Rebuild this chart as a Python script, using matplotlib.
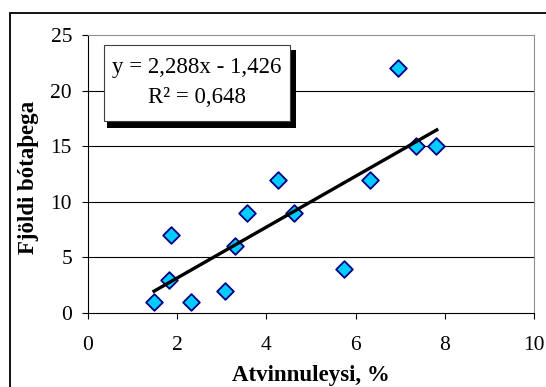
import numpy as np
import matplotlib.pyplot as plt
from matplotlib.patches import Rectangle

# data
atvinnuleysi = [1.48, 1.81, 1.85, 2.30, 3.07, 3.29, 3.56, 4.27, 4.63, 5.75, 6.33, 6.96, 7.36, 7.80]
botathegar = [1, 3, 7, 1, 2, 6, 9, 12, 9, 4, 12, 22, 15, 15]
slope, intercept = 2.288, -1.426
r2_text = "0,648"
x_ticks = [0, 2, 4, 6, 8, 10]
y_ticks = [0, 5, 10, 15, 20, 25]

plt.rcParams['font.family'] = ['Liberation Serif', 'DejaVu Serif']

W, H = 546, 387
fig = plt.figure(figsize=(W / 100, H / 100), dpi=100)
# plot area in pixels: left 88, right 534, top 35, bottom 313
ax = fig.add_axes([88 / W, 1 - 313 / H, (534 - 88) / W, (313 - 35) / H])

# outer chart frame (runs off the right/bottom edges)
fig.patches.append(Rectangle((10 / W, -0.05), 1.1, 1 - 13 / H + 0.05,
                             transform=fig.transFigure, fill=False,
                             edgecolor='black', linewidth=1.3))

for y in y_ticks[1:-1]:
    ax.axhline(y, color='black', linewidth=0.8, zorder=1)

ax.scatter(atvinnuleysi, botathegar, marker='D', s=72, facecolor='#00ccff',
           edgecolor='#000080', linewidth=1.3, zorder=3)

xs = np.array([min(atvinnuleysi), max(atvinnuleysi) + 0.02])
ax.plot(xs, slope * xs + intercept, color='black', linewidth=2.4, zorder=4)

ax.set_xlim(0, 10)
ax.set_ylim(0, 25)
ax.set_xticks(x_ticks)
ax.set_yticks(y_ticks)
ax.tick_params(labelsize=15.5, length=4.5, width=0.8, direction='out')
ax.tick_params(axis='x', pad=12)
ax.tick_params(axis='y', pad=7)
for s in ['top', 'right']:
    ax.spines[s].set_color('#909090')
for s in ['left', 'bottom']:
    ax.spines[s].set_color('black')

ax.set_xlabel('Atvinnuleysi, %', fontsize=16.5, fontweight='bold', va='center')
ax.xaxis.set_label_coords(0.5, (313 - 376) / 278)
ax.set_ylabel('Fjöldi bótaþega', fontsize=16.5, fontweight='bold', va='center')
ax.yaxis.set_label_coords((29 - 88) / 446, 0.487)

# equation box with shadow
bx0, by0, bx1, by1 = 104, 45, 290, 121
fig.patches.append(Rectangle((107 / W, 1 - 128 / H), (296 - 107) / W, (128 - 50) / H,
                             transform=fig.transFigure, facecolor='black', edgecolor='none', zorder=5))
fig.patches.append(Rectangle((bx0 / W, 1 - by1 / H), (bx1 - bx0) / W, (by1 - by0) / H,
                             transform=fig.transFigure, facecolor='white', edgecolor='#404040',
                             linewidth=0.8, zorder=6))
eq = f"y = {slope:.3f}x - {abs(intercept):.3f}".replace('.', ',')
fig.text((bx0 + bx1) / 2 / W, 1 - 67 / H, eq, ha='center', va='center', fontsize=16.5, zorder=7)
fig.text((bx0 + bx1) / 2 / W, 1 - 97 / H, f"R² = {r2_text}", ha='center', va='center',
         fontsize=16.5, zorder=7)

fig.savefig('out.png', dpi=100)
